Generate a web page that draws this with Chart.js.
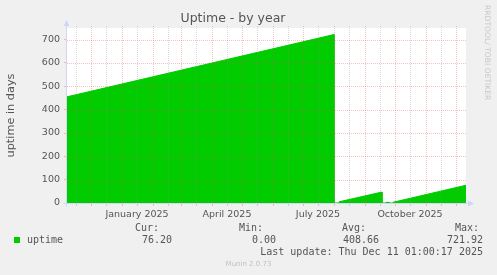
<!DOCTYPE html>
<html>
<head>
<meta charset="utf-8">
<script src="https://cdn.jsdelivr.net/npm/chart.js@4.4.0/dist/chart.umd.min.js"></script>
<style>
  body { margin: 0; background: #f0f0f0; }
  #wrap { position: relative; width: 497px; height: 275px; overflow: hidden; }
  #chart { position: absolute; left: 0; top: 0; }
  .lg { position: absolute; font-family: "DejaVu Sans Mono", monospace; font-size: 10px; line-height: 10px; color: #555; white-space: pre; }
  .r { text-align: right; }
  #box { position: absolute; left: 14px; top: 237px; width: 6px; height: 6px; background: #00cc00; }
  #mark { position: absolute; left: 483px; top: 5px; writing-mode: vertical-rl; font-family: "DejaVu Sans", sans-serif; font-size: 7.6px; color: #c8c8c8; white-space: pre; }
  #munin { position: absolute; left: 0; width: 497px; top: 261px; text-align: center; font-family: "DejaVu Sans", sans-serif; font-size: 7px; line-height: 7px; color: #c0c0c0; }
</style>
</head>
<body>
<div id="wrap">
  <canvas id="chart" width="497" height="275"></canvas>
  <div id="mark">RRDTOOL/ TOBI OETIKER</div>
  <div id="box"></div>
  <div class="lg" style="left:27px; top:235px;">uptime</div>
  <div class="lg r" style="right:338px; top:222.5px;">Cur:</div>
  <div class="lg r" style="right:234px; top:222.5px;">Min:</div>
  <div class="lg r" style="right:131px; top:222.5px;">Avg:</div>
  <div class="lg r" style="right:18px; top:222.5px;">Max:</div>
  <div class="lg r" style="right:325px; top:235px;">76.20</div>
  <div class="lg r" style="right:221px; top:235px;">0.00</div>
  <div class="lg r" style="right:118px; top:235px;">408.66</div>
  <div class="lg r" style="right:14px; top:235px;">721.92</div>
  <div class="lg r" style="right:14px; top:247.2px;">Last update: Thu Dec 11 01:00:17 2025</div>
  <div id="munin">Munin 2.0.73</div>
</div>
<script>
// uptime samples, days
const pointDates = ['2024-11-07', '2025-08-01', '2025-08-01', '2025-08-06', '2025-08-06', '2025-09-18', '2025-09-18',
  '2025-09-22', '2025-09-22', '2025-09-25', '2025-09-25', '2025-09-29', '2025-09-29', '2025-12-11'];
const uptimeDays = [455, 721.92, 0, 0, 5, 47, 0, 0, 3, 3, 0, 0, 3, 76.2];

// x axis range and labels
const rangeStart = '2024-11-07';
const rangeEnd = '2025-12-11';
const xLabelDates = ['2025-01-16', '2025-04-16', '2025-07-16', '2025-10-16'];
const xLabels = ['January 2025', 'April 2025', 'July 2025', 'October 2025'];

// y axis
const yMax = 750;
const yStep = 50;
const yLabelStep = 100;

const day = s => Date.UTC(+s.slice(0, 4), +s.slice(5, 7) - 1, +s.slice(8, 10)) / 864e5;
const xMin = day(rangeStart);
const xMax = day(rangeEnd);

// month starts are major grid lines, the 16th is a minor one
const majorX = [];
const minorX = [];
for (let y = 2024; y <= 2025; y++) {
  for (let m = 0; m < 12; m++) {
    const a = Date.UTC(y, m, 1) / 864e5;
    const b = Date.UTC(y, m, 16) / 864e5;
    if (a >= xMin && a <= xMax) majorX.push(a);
    if (b >= xMin && b <= xMax) minorX.push(b);
  }
}
const labelAt = {};
xLabelDates.forEach((d, i) => labelAt[day(d)] = xLabels[i]);

const MAJOR = 'rgba(222,79,79,0.35)';
const MINOR = 'rgba(143,143,143,0.35)';
const AXIS = '#cfd6f8';
const isMajorX = v => majorX.includes(v);
const isMajorY = v => v % yLabelStep === 0;

// rrdtool style: white canvas, dotted grid on top of the area, axis arrows
const frame = {
  id: 'frame',
  beforeDraw(chart) {
    const { ctx, chartArea: a } = chart;
    ctx.save();
    ctx.fillStyle = '#ffffff';
    ctx.fillRect(a.left, a.top, a.right - a.left, a.bottom - a.top);
    ctx.restore();
  },
  afterDatasetsDraw(chart) {
    const { ctx, chartArea: a, scales } = chart;
    ctx.save();
    ctx.lineWidth = 1;
    ctx.setLineDash([1, 1]);
    scales.x.ticks.forEach(t => {
      const px = Math.round(scales.x.getPixelForValue(t.value)) + 0.5;
      ctx.strokeStyle = isMajorX(t.value) ? MAJOR : MINOR;
      ctx.beginPath();
      ctx.moveTo(px, a.bottom);
      ctx.lineTo(px, a.top - 2);
      ctx.stroke();
    });
    scales.y.ticks.forEach(t => {
      if (t.value === 0) return;
      const py = Math.round(scales.y.getPixelForValue(t.value)) + 0.5;
      ctx.strokeStyle = isMajorY(t.value) ? MAJOR : MINOR;
      ctx.beginPath();
      ctx.moveTo(a.left, py);
      ctx.lineTo(a.right, py);
      ctx.stroke();
    });
    ctx.restore();
  },
  afterDraw(chart) {
    const { ctx, chartArea: a } = chart;
    const x0 = Math.round(a.left) - 0.5;
    const y0 = Math.round(a.bottom) + 0.5;
    ctx.save();
    ctx.strokeStyle = AXIS;
    ctx.fillStyle = AXIS;
    ctx.lineWidth = 1;
    ctx.beginPath();
    ctx.moveTo(x0, a.top - 2);
    ctx.lineTo(x0, y0 + 3);
    ctx.moveTo(x0 - 3, y0);
    ctx.lineTo(a.right + 2, y0);
    ctx.stroke();
    ctx.beginPath();
    ctx.moveTo(x0 - 3, a.top - 2);
    ctx.lineTo(x0 + 3, a.top - 2);
    ctx.lineTo(x0, a.top - 8);
    ctx.closePath();
    ctx.fill();
    ctx.beginPath();
    ctx.moveTo(a.right + 2, y0 - 3);
    ctx.lineTo(a.right + 2, y0 + 3);
    ctx.lineTo(a.right + 8, y0);
    ctx.closePath();
    ctx.fill();
    ctx.restore();
  }
};

const tickFont = { family: 'DejaVu Sans', size: 9.5 };

new Chart(document.getElementById('chart'), {
  type: 'line',
  data: {
    datasets: [{
      label: 'uptime',
      data: pointDates.map((d, i) => ({ x: day(d), y: uptimeDays[i] })),
      fill: 'origin',
      backgroundColor: '#00cc00',
      borderColor: '#00cc00',
      borderWidth: 1,
      pointRadius: 0,
      tension: 0
    }]
  },
  options: {
    responsive: false,
    animation: false,
    layout: { padding: { top: 0, right: 31, bottom: 0, left: 0 } },
    plugins: {
      legend: { display: false },
      tooltip: { enabled: false },
      title: {
        display: true,
        text: 'Uptime - by year',
        color: '#555',
        font: { family: 'DejaVu Sans', size: 12.5, weight: 'normal', lineHeight: 1.2 },
        padding: { top: 11, bottom: 2 }
      }
    },
    scales: {
      x: {
        type: 'linear',
        min: xMin,
        max: xMax,
        afterFit: s => { s.height = 72; },
        afterBuildTicks: s => {
          s.ticks = majorX.concat(minorX).sort((p, q) => p - q).map(v => ({ value: v }));
        },
        grid: {
          drawOnChartArea: false,
          tickColor: c => isMajorX(c.tick.value) ? MAJOR : MINOR,
          tickLength: 3
        },
        border: { display: false },
        ticks: {
          autoSkip: false,
          maxRotation: 0,
          padding: 3,
          color: '#555',
          font: tickFont,
          callback: v => labelAt[v] || ''
        }
      },
      y: {
        min: 0,
        max: yMax,
        afterFit: s => { s.width = 67; },
        grid: {
          drawOnChartArea: false,
          tickColor: c => isMajorY(c.tick.value) ? MAJOR : MINOR,
          tickLength: 3
        },
        border: { display: false },
        ticks: {
          stepSize: yStep,
          padding: 4,
          color: '#555',
          font: tickFont,
          callback: v => isMajorY(v) ? v : ''
        },
        title: {
          display: true,
          text: 'uptime in days',
          color: '#555',
          font: { family: 'DejaVu Sans', size: 11.3 }
        }
      }
    }
  },
  plugins: [frame]
});
</script>
</body>
</html>
